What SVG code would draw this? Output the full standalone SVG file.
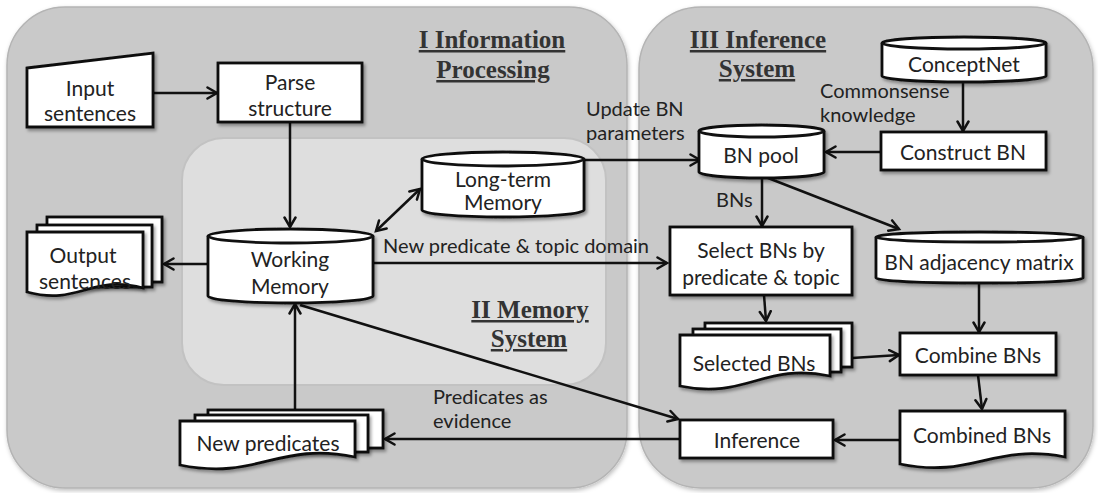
<svg xmlns="http://www.w3.org/2000/svg" width="1098" height="493" viewBox="0 0 1098 493">
<defs>
<filter id="sh" x="-10%" y="-10%" width="130%" height="140%">
<feDropShadow dx="2" dy="2.5" stdDeviation="1.5" flood-color="#000" flood-opacity="0.35"/>
</filter>
<filter id="psh" x="-5%" y="-5%" width="110%" height="110%">
<feDropShadow dx="1" dy="2" stdDeviation="2" flood-color="#000" flood-opacity="0.25"/>
</filter>
<marker id="ah" markerUnits="userSpaceOnUse" markerWidth="14" markerHeight="14" refX="11" refY="7" orient="auto-start-reverse">
<path d="M1.5,1.5 L11,7 L1.5,12.5" fill="none" stroke="#111" stroke-width="2.5" stroke-linecap="round" stroke-linejoin="miter"/>
</marker>
</defs>
<style>
.panel{fill:#c9c9c9;stroke:#b4b4b4;stroke-width:1.5}
.inner{fill:#dedede;stroke:#c2c2c2;stroke-width:2}
.box{fill:#fff;stroke:#111;stroke-width:2.8;filter:url(#sh)}
.cap{fill:none;stroke:#111;stroke-width:2.8}
.t{font-family:Lato,"Liberation Sans",sans-serif;font-size:21px;fill:#222;text-anchor:middle}
.l{font-family:Lato,"Liberation Sans",sans-serif;font-size:20px;fill:#222}
.title{font-family:"Liberation Serif","Times New Roman",serif;font-size:25px;font-weight:bold;fill:#333;text-anchor:middle;text-decoration:underline}
.c{fill:none;stroke:#111;stroke-width:2.5;marker-end:url(#ah)}
</style>
<rect width="1098" height="493" fill="#fff"/>
<g id="panels">
<rect class="panel" x="7" y="7" width="620" height="481" rx="58" filter="url(#psh)"/>
<rect class="panel" x="639" y="7" width="454" height="481" rx="62" filter="url(#psh)"/>
<rect class="inner" x="182" y="138" width="424" height="247" rx="42"/>
</g>
<g id="titles">
<text class="title" x="492" y="48">I Information</text>
<text class="title" x="493" y="78">Processing</text>
<text class="title" x="530" y="318">II Memory</text>
<text class="title" x="529" y="347">System</text>
<text class="title" x="758" y="48">III Inference</text>
<text class="title" x="757" y="77">System</text>
</g>
<g id="connectors">
<line class="c" x1="153" y1="93" x2="217" y2="93"/>
<line class="c" x1="290" y1="122" x2="290" y2="227"/>
<line class="c" x1="376" y1="231" x2="420" y2="189" marker-start="url(#ah)"/>
<line class="c" x1="208" y1="264" x2="164" y2="264"/>
<line class="c" x1="373" y1="263" x2="667" y2="263"/>
<line class="c" x1="584" y1="160" x2="700" y2="160"/>
<line class="c" x1="963" y1="82" x2="963" y2="131"/>
<line class="c" x1="881" y1="152" x2="826" y2="152"/>
<line class="c" x1="762" y1="178" x2="762" y2="226"/>
<line class="c" x1="768" y1="178" x2="899" y2="229"/>
<line class="c" x1="979" y1="284" x2="979" y2="332"/>
<line class="c" x1="764" y1="295" x2="766" y2="321"/>
<line class="c" x1="852" y1="358" x2="899" y2="355"/>
<line class="c" x1="978" y1="375" x2="982" y2="409"/>
<line class="c" x1="900" y1="440" x2="835" y2="440"/>
<line class="c" x1="680" y1="439" x2="385" y2="439"/>
<line class="c" x1="300" y1="305" x2="678" y2="419"/>
<line class="c" x1="295" y1="410" x2="295" y2="304"/>
</g>
<g id="edge-labels">
<text class="l" x="383" y="253" font-size="21">New predicate &amp; topic domain</text>
<text class="l" x="586" y="116">Update BN</text>
<text class="l" x="586" y="140">parameters</text>
<text class="l" x="820" y="98">Commonsense</text>
<text class="l" x="820" y="122">knowledge</text>
<text class="l" x="716" y="207">BNs</text>
<text class="l" x="433" y="404">Predicates as</text>
<text class="l" x="433" y="428">evidence</text>
</g>
<g id="input-sentences">
<path class="box" d="M27,68 L153,53 L153,127 L27,127 Z"/>
<text class="t" x="90" y="96">Input</text>
<text class="t" x="90" y="121">sentences</text>
</g>
<g id="parse-structure">
<rect class="box" x="218" y="63" width="144" height="59"/>
<text class="t" x="290" y="90">Parse</text>
<text class="t" x="290" y="116">structure</text>
</g>
<g id="working-memory">
<path class="box" d="M208,236 A82.5,7 0 0 1 373,236 L373,296 A82.5,7 0 0 1 208,296 Z"/>
<path class="cap" d="M208,236 A82.5,7 0 0 0 373,236"/>
<text class="t" x="290" y="267">Working</text>
<text class="t" x="290" y="294">Memory</text>
</g>
<g id="long-term-memory">
<path class="box" d="M422,159 A81,7 0 0 1 584,159 L584,210 A81,7 0 0 1 422,210 Z"/>
<path class="cap" d="M422,159 A81,7 0 0 0 584,159"/>
<text class="t" x="503" y="187">Long-term</text>
<text class="t" x="503" y="210">Memory</text>
</g>
<g id="output-sentences">
<rect class="box" x="47" y="217" width="115" height="65"/>
<rect class="box" x="37" y="225" width="115" height="62"/>
<path class="box" d="M27,232 H143 V288 C91,274 79,306 27,292 Z"/>
<text class="t" x="83" y="263">Output</text>
<text class="t" x="85" y="289">sentences</text>
</g>
<g id="new-predicates">
<rect class="box" x="208" y="410" width="175" height="38"/>
<rect class="box" x="195" y="415" width="173" height="37"/>
<path class="box" d="M180,421 H355 V457 C278,441 258,481 180,465 Z"/>
<text class="t" x="268" y="451">New predicates</text>
</g>
<g id="conceptnet">
<path class="box" d="M882,43 A82,6 0 0 1 1046,43 L1046,76 A82,6 0 0 1 882,76 Z"/>
<path class="cap" d="M882,43 A82,6 0 0 0 1046,43"/>
<text class="t" x="964" y="72">ConceptNet</text>
</g>
<g id="construct-bn">
<rect class="box" x="881" y="132" width="165" height="38"/>
<text class="t" x="963" y="160">Construct BN</text>
</g>
<g id="bn-pool">
<path class="box" d="M699,131 A62.5,6 0 0 1 824,131 L824,172 A62.5,6 0 0 1 699,172 Z"/>
<path class="cap" d="M699,131 A62.5,6 0 0 0 824,131"/>
<text class="t" x="761" y="163">BN pool</text>
</g>
<g id="select-bns">
<rect class="box" x="670" y="227" width="182" height="68"/>
<text class="t" x="761" y="258">Select BNs by</text>
<text class="t" x="761" y="285">predicate &amp; topic</text>
</g>
<g id="bn-adjacency-matrix">
<path class="box" d="M876,237 A103.5,5 0 0 1 1083,237 L1083,278 A103.5,5 0 0 1 876,278 Z"/>
<path class="cap" d="M876,237 A103.5,5 0 0 0 1083,237"/>
<text class="t" x="979" y="270">BN adjacency matrix</text>
</g>
<g id="selected-bns">
<rect class="box" x="705" y="323" width="147" height="44"/>
<rect class="box" x="693" y="329" width="148" height="43"/>
<path class="box" d="M680,335 H830 V376 C764,362 746,400 680,386 Z"/>
<text class="t" x="754" y="371">Selected BNs</text>
</g>
<g id="combine-bns">
<rect class="box" x="900" y="333" width="156" height="42"/>
<text class="t" x="978" y="363">Combine BNs</text>
</g>
<g id="combined-bns">
<path class="box" d="M900,411 H1065 V457 C992,443 972,479 900,464 Z"/>
<text class="t" x="982" y="443">Combined BNs</text>
</g>
<g id="inference">
<rect class="box" x="680" y="420" width="153" height="38"/>
<text class="t" x="757" y="448">Inference</text>
</g>
</svg>
